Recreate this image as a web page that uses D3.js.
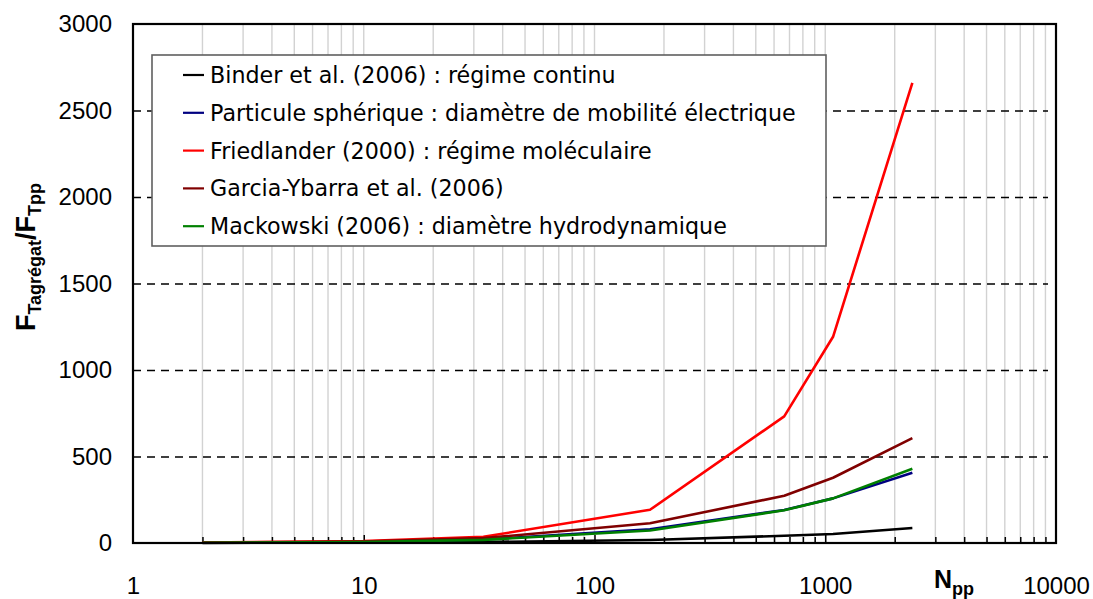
<!DOCTYPE html>
<html>
<head>
<meta charset="utf-8">
<script src="https://cdn.jsdelivr.net/npm/d3@7"></script>
<style>
  html, body { margin: 0; padding: 0; background: #fff; }
  svg { display: block; }
</style>
</head>
<body>
<svg id="chart" width="1093" height="599"></svg>
<script>
// Number of primary particles in the aggregate
const npp = [2, 10, 33, 174, 664, 1081, 2385];

// Ratio F_T(aggregate) / F_T(primary particle) for each model
const binder      = [1, 3, 6, 17, 42, 52, 87];
const spherique   = [1.5, 6, 20, 79, 191, 258, 406];
const friedlander = [2, 11, 36, 192, 732, 1192, 2660];
const garcia      = [1.6, 8, 28, 114, 273, 377, 606];
const mackowski   = [1.5, 6, 18, 72, 189, 258, 429];

const seriesNames = [
  "Binder et al. (2006) : régime continu",
  "Particule sphérique : diamètre de mobilité électrique",
  "Friedlander (2000) : régime moléculaire",
  "Garcia-Ybarra et al. (2006)",
  "Mackowski (2006) : diamètre hydrodynamique"
];
const seriesValues = [binder, spherique, friedlander, garcia, mackowski];
const seriesColors = ["#000000", "#000080", "#ff0000", "#800000", "#008000"];

const xTickLabels = [1, 10, 100, 1000, 10000];
const yTickLabels = [0, 500, 1000, 1500, 2000, 2500, 3000];

const svg = d3.select("#chart");
const plotLeft = 133, plotRight = 1056, plotTop = 24, plotBottom = 543;

const x = d3.scaleLog().domain([1, 10000]).range([plotLeft, plotRight]);
const y = d3.scaleLinear().domain([0, 3000]).range([plotBottom, plotTop]);

// minor positions 2..9 of each decade plus the decade values
const logTicks = [];
for (let e = 0; e < 4; e++) {
  for (let m = 1; m <= 9; m++) logTicks.push(m * Math.pow(10, e));
}
logTicks.push(10000);
const innerTicks = logTicks.filter(d => d > 1 && d < 10000);

// vertical grid lines
svg.append("g")
  .selectAll("line")
  .data(innerTicks)
  .join("line")
  .attr("x1", d => x(d)).attr("x2", d => x(d))
  .attr("y1", plotTop).attr("y2", plotBottom)
  .attr("stroke", "#d2d2d2")
  .attr("stroke-width", 1.4);

// horizontal dashed grid + y labels
const yAxis = svg.append("g")
  .attr("transform", `translate(${plotLeft},0)`)
  .call(d3.axisLeft(y).tickValues(yTickLabels).tickSize(-(plotRight - plotLeft - 8)).tickPadding(21).tickFormat(d3.format("d")));
yAxis.select(".domain").remove();
yAxis.selectAll(".tick line")
  .attr("stroke", "#000")
  .attr("stroke-width", 1.3)
  .attr("stroke-dasharray", "8,6")
  .attr("display", d => (d === 0 || d === 3000) ? "none" : null);
yAxis.selectAll(".tick text")
  .attr("font-family", "'Liberation Sans', Arial, sans-serif")
  .attr("font-size", 24)
  .attr("fill", "#000");

// x tick marks (inward)
const xAxis = svg.append("g")
  .attr("transform", `translate(0,${plotBottom})`)
  .call(d3.axisBottom(x).tickValues(innerTicks).tickSize(-6).tickFormat(""));
xAxis.select(".domain").remove();
xAxis.selectAll(".tick line")
  .attr("stroke", "#000")
  .attr("stroke-width", 1.5)
  .attr("y2", d => [10, 100, 1000].includes(d) ? -8 : -6);

// x labels
const xLab = svg.append("g")
  .attr("transform", `translate(0,${plotBottom})`)
  .call(d3.axisBottom(x).tickValues(xTickLabels).tickSize(0).tickPadding(34).tickFormat(d3.format("d")));
xLab.select(".domain").remove();
xLab.selectAll(".tick text")
  .attr("font-family", "'Liberation Sans', Arial, sans-serif")
  .attr("font-size", 24)
  .attr("fill", "#000");

// series lines
const line = d3.line()
  .x((d, i) => x(npp[i]))
  .y(d => y(d));

svg.append("g")
  .selectAll("path")
  .data(seriesValues)
  .join("path")
  .attr("d", d => line(d))
  .attr("fill", "none")
  .attr("stroke", (d, i) => seriesColors[i])
  .attr("stroke-width", 2.6)
  .attr("stroke-linejoin", "round");

// plot frame
svg.append("rect")
  .attr("x", plotLeft).attr("y", plotTop)
  .attr("width", plotRight - plotLeft).attr("height", plotBottom - plotTop)
  .attr("fill", "none")
  .attr("stroke", "#000")
  .attr("stroke-width", 2.2);

// legend
const lg = svg.append("g");
lg.append("rect")
  .attr("x", 152).attr("y", 55)
  .attr("width", 674).attr("height", 191)
  .attr("fill", "#fff")
  .attr("stroke", "#5f5f5f")
  .attr("stroke-width", 1.6);
const rows = lg.selectAll("g.row")
  .data(seriesNames)
  .join("g")
  .attr("class", "row")
  .attr("transform", (d, i) => `translate(0,${75 + i * 37.8})`);
rows.append("line")
  .attr("x1", 183).attr("x2", 204)
  .attr("y1", 0).attr("y2", 0)
  .attr("stroke", (d, i) => seriesColors[i])
  .attr("stroke-width", 2.2);
rows.append("text")
  .attr("x", 210).attr("y", 0)
  .attr("dy", "0.36em")
  .attr("font-family", "'DejaVu Sans', Verdana, sans-serif")
  .attr("font-size", 22.2)
  .attr("fill", "#000")
  .text(d => d);

// axis titles
const xt = svg.append("text")
  .attr("x", 934).attr("y", 588)
  .attr("font-family", "'Liberation Sans', Arial, sans-serif")
  .attr("font-weight", "bold")
  .attr("font-size", 25)
  .attr("fill", "#000");
xt.append("tspan").text("N");
xt.append("tspan").attr("dy", 7).attr("font-size", 18).text("pp");

const yt = svg.append("text")
  .attr("transform", "translate(35,257) rotate(-90)")
  .attr("text-anchor", "middle")
  .attr("font-family", "'Liberation Sans', Arial, sans-serif")
  .attr("font-weight", "bold")
  .attr("font-size", 27)
  .attr("fill", "#000");
yt.append("tspan").text("F");
yt.append("tspan").attr("dy", 6).attr("font-size", 18).text("Tagrégat");
yt.append("tspan").attr("dy", -6).text("/F");
yt.append("tspan").attr("dy", 6).attr("font-size", 18).text("Tpp");
</script>
</body>
</html>
